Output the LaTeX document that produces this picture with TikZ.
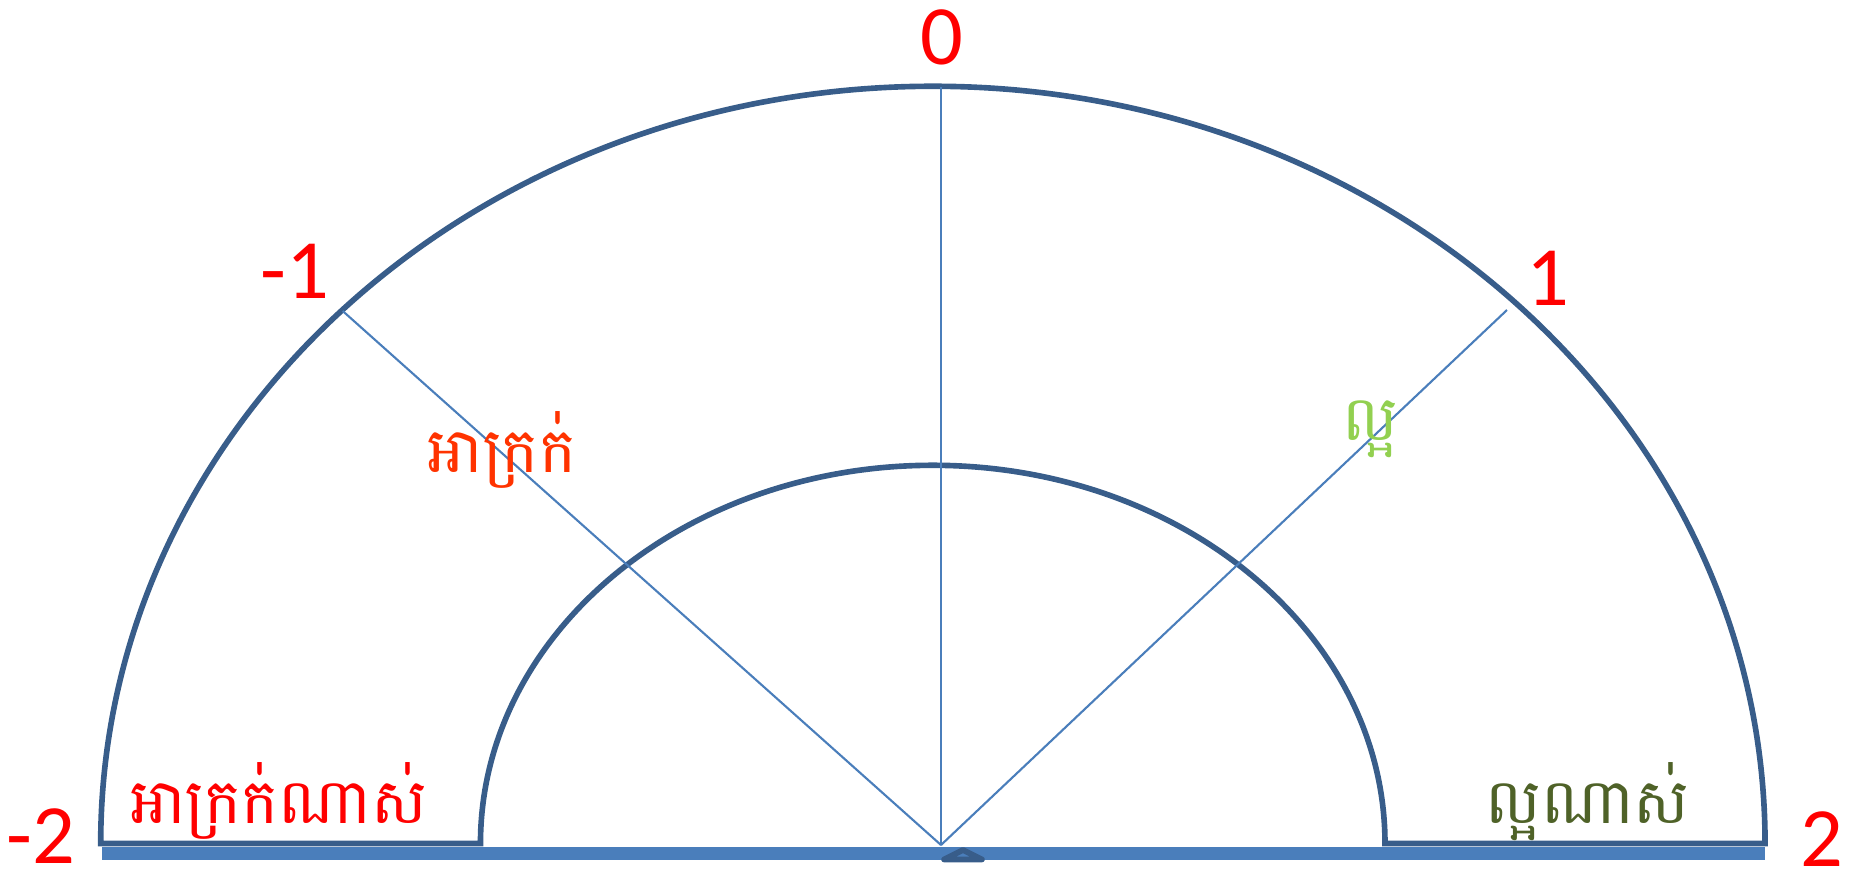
\documentclass[tikz,border=0pt]{standalone}
\usepackage{fontspec}
\setmainfont{Carlito}
\newfontfamily\khmer[Script=Khmer]{Battambang}
\usepackage{tikz}
\usepackage{xcolor}
\definecolor{numRed}{HTML}{FF0000}
\definecolor{badOrange}{HTML}{FF3300}
\definecolor{goodGreen}{HTML}{92D050}
\definecolor{oliveGreen}{HTML}{4F6228}
\definecolor{arcBlue}{HTML}{385D8A}
\definecolor{rayBlue}{HTML}{4A7EBB}
\definecolor{barBlue}{HTML}{4A7EBB}

\begin{document}
\begin{tikzpicture}[x=0.01cm,y=0.01cm,
  num/.style={font=\fontsize{24}{28}\selectfont,text=numRed,inner sep=0pt,anchor=base},
  khm/.style={font=\khmer\fontsize{17.7}{22}\selectfont,inner sep=0pt,anchor=base},
  ray/.style={draw=rayBlue,line width=0.6pt}]
  \useasboundingbox (0,0) rectangle (1853,-884);
  % gauge body
  \draw[arcBlue,line width=1.6pt] (100.7,-843.5)
    arc[start angle=180,end angle=0,x radius=8.317cm,y radius=7.568cm]
    -- (1385,-843.5)
    arc[start angle=0,end angle=180,x radius=4.52cm,y radius=3.78cm] -- cycle;
  \fill[barBlue] (101.7,-846.5) rectangle (1765,-859.5);
  % rays
  \coordinate (pivot) at (941,-845);
  \coordinate (top) at (941,-87);
  \coordinate (upleft) at (342.7,-311);
  \coordinate (upright) at (1507,-310);
  \draw[ray] (pivot) -- (top);
  \draw[ray] (pivot) -- (upleft);
  \draw[ray] (pivot) -- (upright);
  \draw[arcBlue,fill=barBlue,line width=1.6pt,line join=round]
    (944,-859.5) -- (963,-850) -- (982,-859.5) -- cycle;
  % scale numbers
  \node[num] (zero) at (942,-64) {0};
  \node[num] (minone) at (295,-298) {-1};
  \node[num] (one) at (1548,-305) {1};
  \node[num] (mintwo) at (41,-863) {-2};
  \node[num] (two) at (1822,-866) {2};
  % labels
  \node[khm,text=badOrange] (bad) at (502,-472) {អាក្រក់};
  \node[khm,text=goodGreen] (good) at (1370.5,-440) {ល្អ};
  \node[khm,text=numRed] (verybad) at (278.5,-823) {អាក្រក់ណាស់};
  \node[khm,text=oliveGreen] (verygood) at (1587.5,-823) {ល្អណាស់};
\end{tikzpicture}
\end{document}
